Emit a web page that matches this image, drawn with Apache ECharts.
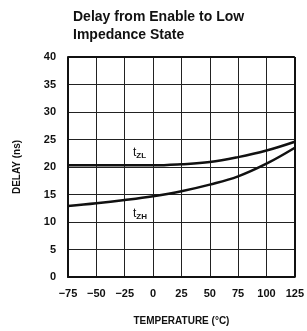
<!DOCTYPE html>
<html>
<head>
<meta charset="utf-8">
<script src="https://cdn.jsdelivr.net/npm/echarts@6/dist/echarts.min.js"></script>
<style>
  html, body { margin: 0; padding: 0; background: #fff; }
  #main { width: 307px; height: 331px; }
</style>
</head>
<body>
<div id="main"></div>
<script>
// temperature (°C) and delay (ns)
var temps = [-75, -50, -25, 0, 25, 50, 75, 100, 125];
var tZL = [20.3, 20.3, 20.3, 20.3, 20.5, 20.9, 21.8, 23.0, 24.6];
var tZH = [12.9, 13.4, 14.0, 14.7, 15.6, 16.8, 18.3, 20.6, 23.5];
var xTicks = [-75, 125, 25];
var yTicks = [0, 40, 5];

function pairs(xs, ys) {
  return xs.map(function (x, i) { return [x, ys[i]]; });
}

var font = 'Liberation Sans';
var chart = echarts.init(document.getElementById('main'));
chart.setOption({
  animation: false,
  grid: { left: 68, top: 57, width: 228, height: 226 },
  title: {
    text: 'Delay from Enable to Low\nImpedance State',
    left: 68, top: 3,
    textStyle: { fontFamily: font, fontWeight: 'bold', fontSize: 14, color: '#111', lineHeight: 18 }
  },
  xAxis: {
    type: 'value', min: xTicks[0], max: xTicks[1], interval: xTicks[2],
    name: 'TEMPERATURE (°C)', nameLocation: 'middle', nameGap: 39,
    nameTextStyle: { fontFamily: font, fontWeight: 'bold', fontSize: 10, color: '#111' },
    axisLine: { onZero: false, lineStyle: { color: '#111', width: 2 } },
    axisTick: { show: false },
    axisLabel: { fontFamily: font, fontWeight: 'bold', fontSize: 11, color: '#111', margin: 11,
      formatter: function (v) { return String(v).replace('-', '\u2212'); } },
    splitLine: { lineStyle: { color: '#222', width: 1 } }
  },
  yAxis: {
    type: 'value', min: yTicks[0], max: yTicks[1], interval: yTicks[2],
    name: 'DELAY (ns)', nameLocation: 'middle', nameGap: 46, nameRotate: 90,
    nameTextStyle: { fontFamily: font, fontWeight: 'bold', fontSize: 10, color: '#111' },
    axisLine: { show: true, onZero: false, lineStyle: { color: '#111', width: 2 } },
    axisTick: { show: false },
    axisLabel: { fontFamily: font, fontWeight: 'bold', fontSize: 11, color: '#111', margin: 12 },
    splitLine: { lineStyle: { color: '#222', width: 1 } }
  },
  series: [
    {
      type: 'line', data: pairs(temps, tZL), smooth: 0.4, symbol: 'none',
      lineStyle: { color: '#111', width: 2.5 }
    },
    {
      type: 'line', data: pairs(temps, tZH), smooth: 0.4, symbol: 'none',
      lineStyle: { color: '#111', width: 2.5 }
    },
    {
      type: 'line', data: [], silent: true,
      markLine: { silent: true, symbol: 'none', label: { show: false },
        lineStyle: { color: '#111', width: 2, type: 'solid' },
        data: [[{ coord: [125, 0] }, { coord: [125, 40] }], [{ coord: [-75, 40] }, { coord: [125, 40] }]] }
    }
  ],
  graphic: [
    { type: 'text', left: 133, top: 147,
      style: { text: '{t|t}{s|ZL}', rich: { t: { fontFamily: font, fontSize: 12, fill: '#111' },
        s: { fontFamily: font, fontWeight: 'bold', fontSize: 8, fill: '#111', padding: [6, 0, 0, 0] } } } },
    { type: 'text', left: 133, top: 208,
      style: { text: '{t|t}{s|ZH}', rich: { t: { fontFamily: font, fontSize: 12, fill: '#111' },
        s: { fontFamily: font, fontWeight: 'bold', fontSize: 8, fill: '#111', padding: [6, 0, 0, 0] } } } }
  ]
});
</script>
</body>
</html>
